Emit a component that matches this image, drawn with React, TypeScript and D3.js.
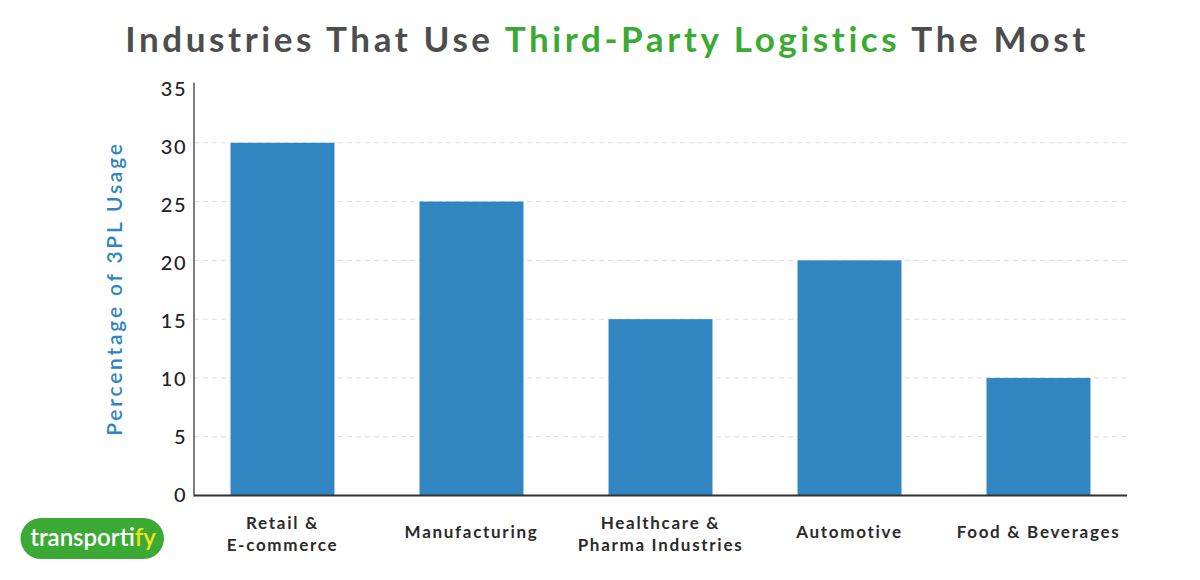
import React from "react";
import * as d3 from "d3";

const categories: string[][] = [
  ["Retail &", "E-commerce"],
  ["Manufacturing"],
  ["Healthcare &", "Pharma Industries"],
  ["Automotive"],
  ["Food & Beverages"],
];
const values: number[] = [30, 25, 15, 20, 10];
const yTicks: number[] = [0, 5, 10, 15, 20, 25, 30, 35];
const titleParts = [
  { text: "Industries That Use ", color: "#4d4d4d" },
  { text: "Third-Party Logistics", color: "#3aaa35" },
  { text: " The Most", color: "#4d4d4d" },
];
const yLabel = "Percentage of 3PL Usage";

const W = 1200;
const H = 580;
const axisLeft = 194;
const axisRight = 1127;
const y0 = 495.5;
const yTop = 82.5;

export default function App() {
  const x = d3
    .scaleBand<number>()
    .domain(d3.range(values.length))
    .range([188, 1133])
    .paddingInner(0.45)
    .paddingOuter(0.225);
  const y = d3.scaleLinear().domain([0, 35]).range([y0, yTop + 1.5]);
  const yLab = d3.scaleLinear().domain([0, 35]).range([495, 89]);
  const font = "Lato, 'Open Sans', sans-serif";

  return (
    <svg width={W} height={H} style={{ position: "absolute", left: 0, top: 0, background: "#fff" }}>
      <rect x={0} y={0} width={W} height={H} fill="#fff" />
      <text
        x={607}
        y={52}
        textAnchor="middle"
        fontFamily={font}
        fontWeight={700}
        fontSize={35}
        letterSpacing={3.6}
      >
        {titleParts.map((p, i) => (
          <tspan key={i} fill={p.color}>
            {p.text}
          </tspan>
        ))}
      </text>

      {yTicks
        .filter((t) => t > 0 && t < 35)
        .map((t) => (
          <line
            key={"g" + t}
            x1={axisLeft}
            x2={axisRight}
            y1={y(t)}
            y2={y(t)}
            stroke="#dcdcdc"
            strokeWidth={1}
            strokeDasharray="5,4"
          />
        ))}

      {values.map((v, i) => (
        <rect
          key={"b" + i}
          x={x(i)!}
          y={y(v)}
          width={x.bandwidth()}
          height={y(0) - y(v)}
          fill="#3186c1"
        />
      ))}

      <line x1={axisLeft} x2={axisLeft} y1={yTop} y2={y0 + 1} stroke="#555" strokeWidth={1.5} />
      <line x1={axisLeft} x2={axisRight} y1={y0} y2={y0} stroke="#333" strokeWidth={2} />

      {yTicks.map((t) => (
        <text
          key={"t" + t}
          x={187}
          y={yLab(t)}
          dy="0.36em"
          textAnchor="end"
          fontFamily={font}
          fontWeight={500}
          fontSize={20}
          letterSpacing={1.5}
          fill="#222"
        >
          {t}
        </text>
      ))}

      <text
        transform={`translate(122,288.5) rotate(-90)`}
        textAnchor="middle"
        fontFamily={font}
        fontWeight={600}
        fontSize={21}
        letterSpacing={2.8}
        fill="#3186c1"
      >
        {yLabel}
      </text>

      {categories.map((lines, i) => {
        const cx = x(i)! + x.bandwidth() / 2;
        const startY = lines.length === 1 ? 538 : 529;
        return (
          <text
            key={"c" + i}
            x={cx}
            y={startY}
            textAnchor="middle"
            fontFamily={font}
            fontWeight={700}
            fontSize={17}
            letterSpacing={1.7}
            fill="#2b2b2b"
          >
            {lines.map((l, j) => (
              <tspan key={j} x={cx} dy={j === 0 ? 0 : 22}>
                {l}
              </tspan>
            ))}
          </text>
        );
      })}

      <g>
        <rect x={20.5} y={518} width={143.5} height={41} rx={20.5} fill="#3aaa35" />
        <text x={93} y={546} textAnchor="middle" fontFamily={font} fontWeight={600} fontSize={24} fill="#fff">
          <tspan fill="#fff">transport</tspan>
          <tspan fill="#f5e31a">ify</tspan>
        </text>
      </g>
    </svg>
  );
}
